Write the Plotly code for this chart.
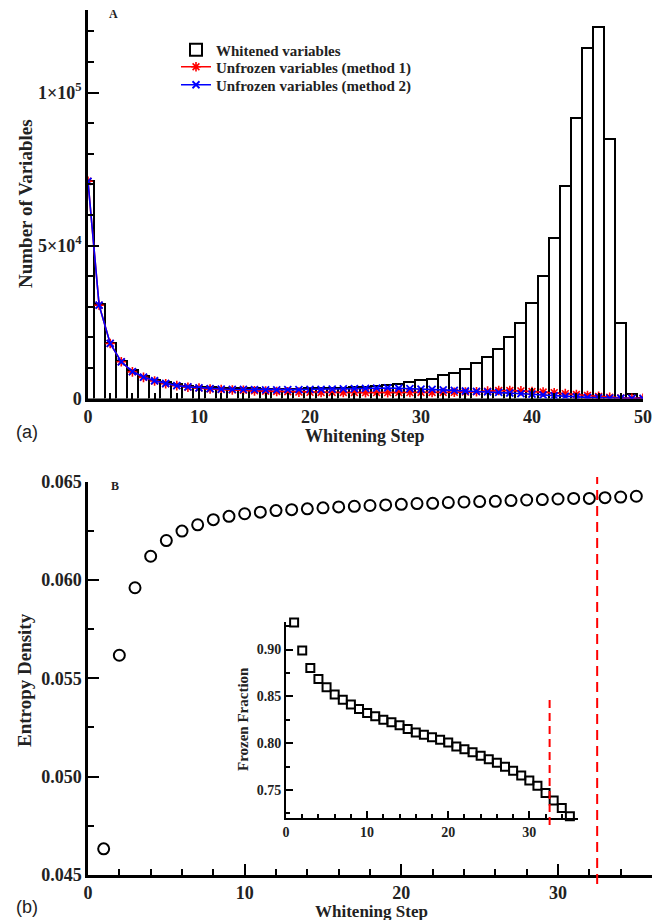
import plotly.graph_objects as go

# ---------------- data ----------------
steps_a = list(range(0, 51))
whitened = [71000, 30800, 18200, 12300, 9400, 7500, 6200, 5300, 4600, 4100,
            3800, 3600, 3500, 3400, 3300, 3300, 3200, 3200, 3200, 3200,
            3300, 3300, 3400, 3500, 3600, 3800, 4000, 4400, 4900, 5400,
            5900, 6500, 7600, 8500, 9800, 11600, 13600, 16300, 20200, 24800,
            31300, 40200, 52500, 69500, 91600, 114600, 121600, 84700, 24700, 1600,
            200]
unfrozen_m1 = [71000, 30500, 18000, 12000, 8700, 6900, 5700, 4800, 4200, 3700,
               3400, 3100, 2900, 2800, 2700, 2500, 2400, 2300, 2200, 2100,
               2000, 1980, 1960, 1950, 1940, 1930, 1930, 1920, 1930, 1940,
               1950, 1960, 1980, 2020, 2100, 2200, 2400, 2600, 2600, 2500,
               2300, 2100, 1900, 1600, 1300, 1000, 700, 400, 200, 100,
               50]
unfrozen_m2 = [71000, 30500, 18000, 12000, 8800, 7000, 5800, 4900, 4200, 3800,
               3500, 3200, 3100, 3000, 2950, 2900, 2850, 2850, 2900, 2900,
               3000, 3000, 3100, 3150, 3200, 3300, 3400, 3450, 3350, 3250,
               3100, 2950, 2800, 2650, 2450, 2300, 2150, 2000, 1800, 1600,
               1400, 1150, 900, 700, 500, 380, 250, 150, 80, 40,
               0]

steps_b = list(range(1, 36))
entropy = [0.04633, 0.05617, 0.0596, 0.0612, 0.0620, 0.06248, 0.0628, 0.06306,
           0.06323, 0.06336, 0.06344, 0.06352, 0.06357, 0.06361, 0.06366, 0.06371,
           0.06374, 0.06378, 0.06381, 0.06384, 0.06388, 0.06389, 0.06393, 0.06396,
           0.06398, 0.06399, 0.06403, 0.06406, 0.06408, 0.06411, 0.06414, 0.06414,
           0.06418, 0.06421, 0.06425]
frozen = [0.929, 0.899, 0.8804, 0.8686, 0.8597, 0.8519, 0.8465, 0.8412, 0.8365,
          0.8323, 0.8287, 0.8251, 0.8222, 0.8190, 0.8150, 0.8113, 0.8089, 0.8064,
          0.8035, 0.8006, 0.7964, 0.7936, 0.7902, 0.7864, 0.7829, 0.7790, 0.7747,
          0.7704, 0.7654, 0.7601, 0.7544, 0.7466, 0.7387, 0.7306, 0.7218]
threshold_step = 32.5

top_y_tickvals = [0, 50000, 100000]
top_y_ticktext = ["0", "5×10<sup>4</sup>", "1×10<sup>5</sup>"]
legend_names = ["Whitened variables", "Unfrozen variables (method 1)",
                "Unfrozen variables (method 2)"]

# ---------------- figure ----------------
W, H = 668, 920
SERIF = "Liberation Serif"
TXT = "#222222"


def px(x):
    return x / W


def py(y):
    return 1 - y / H


fig = go.Figure()

fig.add_trace(go.Bar(x=steps_a, y=whitened, width=1, showlegend=False,
                     marker=dict(color="white", line=dict(color="black", width=2)),
                     xaxis="x", yaxis="y"))
fig.add_trace(go.Scatter(x=[None], y=[None], mode="markers", name=legend_names[0],
                         legend="legend",
                         marker=dict(symbol="square-open", size=12, color="black",
                                     line=dict(width=2)),
                         xaxis="x", yaxis="y"))
fig.add_trace(go.Scatter(x=steps_a, y=unfrozen_m1, mode="lines+markers",
                         name=legend_names[1], legend="legend2",
                         line=dict(color="red", width=1.6),
                         marker=dict(symbol="asterisk-open", size=8, color="red",
                                     line=dict(color="red", width=1.6)),
                         xaxis="x", yaxis="y"))
fig.add_trace(go.Scatter(x=steps_a, y=unfrozen_m2, mode="lines+markers",
                         name=legend_names[2], legend="legend3",
                         line=dict(color="blue", width=1.6),
                         marker=dict(symbol="x-thin-open", size=7, color="blue",
                                     line=dict(color="blue", width=1.8)),
                         xaxis="x", yaxis="y"))

fig.add_trace(go.Scatter(x=steps_b, y=entropy, mode="markers", showlegend=False,
                         marker=dict(symbol="circle-open", size=11, color="black",
                                     line=dict(width=2)),
                         xaxis="x2", yaxis="y2"))
fig.add_trace(go.Scatter(x=steps_b, y=frozen, mode="markers", showlegend=False,
                         cliponaxis=False,
                         marker=dict(symbol="square-open", size=8, color="black",
                                     line=dict(width=2)),
                         xaxis="x3", yaxis="y3"))

axis_common = dict(showline=True, linecolor="black", linewidth=2.5, showgrid=False,
                   zeroline=False, ticks="inside", tickcolor="black", tickwidth=2,
                   mirror=False, automargin=False)


def legend_at(y_center):
    return dict(x=px(176), y=py(y_center), xanchor="left", yanchor="middle",
                bgcolor="rgba(0,0,0,0)", itemwidth=30, borderwidth=0,
                font=dict(family=SERIF, size=15, color=TXT, weight="bold"))


fig.update_layout(
    width=W, height=H, margin=dict(l=0, r=0, t=0, b=0, pad=0, autoexpand=False),
    paper_bgcolor="white", plot_bgcolor="white", bargap=0,
    font=dict(family=SERIF, color=TXT),
    xaxis=dict(axis_common, domain=[px(88), px(643)], anchor="y", range=[0, 50],
               dtick=10, ticklen=11,
               minor=dict(ticks="inside", dtick=2, ticklen=6, tickcolor="black", tickwidth=2),
               tickfont=dict(family=SERIF, size=18, color=TXT, weight="bold")),
    yaxis=dict(axis_common, domain=[py(398.5), py(10)], anchor="x", range=[0, 127000],
               tickvals=top_y_tickvals, ticktext=top_y_ticktext, ticklen=11,
               minor=dict(ticks="inside", dtick=10000, ticklen=6, tickcolor="black", tickwidth=2),
               tickfont=dict(family=SERIF, size=18, color=TXT, weight="bold")),
    xaxis2=dict(axis_common, domain=[px(88), px(652)], anchor="y2", range=[0, 36],
                dtick=10, ticklen=11,
                minor=dict(ticks="inside", dtick=2, ticklen=6, tickcolor="black", tickwidth=2),
                tickfont=dict(family=SERIF, size=18, color=TXT, weight="bold")),
    yaxis2=dict(axis_common, domain=[py(875), py(481.5)], anchor="x2",
                range=[0.045, 0.065], dtick=0.005, tickformat=".3f", ticklen=11,
                minor=dict(ticks="inside", dtick=0.0025, ticklen=6, tickcolor="black", tickwidth=2),
                tickfont=dict(family=SERIF, size=18, color=TXT, weight="bold")),
    xaxis3=dict(axis_common, domain=[px(286), px(578)], anchor="y3", range=[0, 36],
                dtick=10, ticklen=7, linewidth=2,
                minor=dict(ticks="inside", dtick=2, ticklen=4, tickcolor="black", tickwidth=1.5),
                tickfont=dict(family=SERIF, size=14, color=TXT, weight="bold")),
    yaxis3=dict(axis_common, domain=[py(818), py(621.5)], anchor="x3",
                range=[0.72, 0.93], tickformat=".2f", ticklen=7, linewidth=2,
                tickvals=[0.75, 0.80, 0.85, 0.90],
                minor=dict(ticks="inside", tickvals=[0.725, 0.775, 0.825, 0.875, 0.925],
                           ticklen=4, tickcolor="black", tickwidth=1.5),
                tickfont=dict(family=SERIF, size=14, color=TXT, weight="bold")),
    legend=legend_at(50),
    legend2=legend_at(67),
    legend3=legend_at(85),
)

# threshold dashed lines
fig.add_shape(type="line", xref="x2", yref="paper", x0=threshold_step, x1=threshold_step,
              y0=py(884), y1=py(477), line=dict(color="red", width=2, dash="10px,6px"))
fig.add_shape(type="line", xref="x3", yref="paper", x0=threshold_step, x1=threshold_step,
              y0=py(825), y1=py(696.7), line=dict(color="red", width=2, dash="8px,5px"))


def label(text, x, y, size, angle=0, family=SERIF, bold=True):
    fig.add_annotation(text=text, x=px(x), y=py(y), xref="paper", yref="paper",
                       showarrow=False, textangle=angle, xanchor="center", yanchor="middle",
                       font=dict(family=family, size=size, color=TXT,
                                 weight="bold" if bold else "normal"))


label("Number of Variables", 25, 204, 19, angle=-90)
label("Whitening Step", 365, 436, 18)
label("Entropy Density", 24, 680, 19, angle=-90)
label("Whitening Step", 371, 911, 17)
label("Frozen Fraction", 243, 719, 15, angle=-90)
label("A", 113, 14, 12)
label("B", 115, 486, 12)
label("(a)", 27, 432, 18, family="Liberation Sans", bold=False)
label("(b)", 27, 907, 18, family="Liberation Sans", bold=False)

fig.write_html("out.html", config={"displayModeBar": False},
               post_script="document.body.style.margin='0px';"
                           "document.body.style.overflow='hidden';")
